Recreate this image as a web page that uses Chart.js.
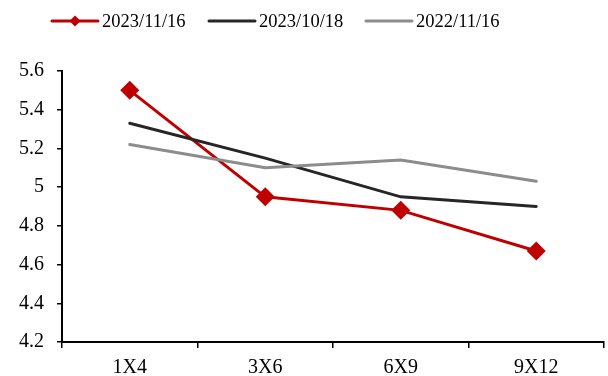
<!DOCTYPE html>
<html>
<head>
<meta charset="utf-8">
<script src="https://cdn.jsdelivr.net/npm/chart.js@4/dist/chart.umd.min.js"></script>
<style>
  html, body { margin: 0; padding: 0; background: #fff; }
  #wrap { width: 608px; height: 376px; }
</style>
</head>
<body>
<div id="wrap"><canvas id="c" width="608" height="376"></canvas></div>
<script>
// Tenors on the x axis
const categories = ['1X4', '3X6', '6X9', '9X12'];
// Curve values on each date
const series20231116 = [5.50, 4.95, 4.88, 4.67];
const series20231018 = [5.33, 5.15, 4.95, 4.90];
const series20221116 = [5.22, 5.10, 5.14, 5.03];
// Y axis range
const yTicks = [4.2, 4.4, 4.6, 4.8, 5.0, 5.2, 5.4, 5.6];

const FONT = '"Liberation Serif", "Times New Roman", serif';
const RED = '#C00000', DARK = '#262626', GREY = '#8C8C8C';

const legendItems = [
  { label: '2023/11/16', color: RED, marker: true, x: 52 },
  { label: '2023/10/18', color: DARK, marker: false, x: 209 },
  { label: '2022/11/16', color: GREY, marker: false, x: 366 }
];

// Legend row drawn across the top of the canvas
const topLegend = {
  id: 'topLegend',
  afterDraw(chart) {
    const ctx = chart.ctx;
    const y = 21;
    ctx.save();
    legendItems.forEach(it => {
      ctx.strokeStyle = it.color;
      ctx.lineWidth = 3;
      ctx.lineCap = 'round';
      ctx.beginPath();
      ctx.moveTo(it.x, y);
      ctx.lineTo(it.x + 46, y);
      ctx.stroke();
      if (it.marker) {
        const cx = it.x + 23, r = 5.5;
        ctx.fillStyle = it.color;
        ctx.beginPath();
        ctx.moveTo(cx - r, y); ctx.lineTo(cx, y - r);
        ctx.lineTo(cx + r, y); ctx.lineTo(cx, y + r);
        ctx.closePath();
        ctx.fill();
      }
      ctx.fillStyle = '#000';
      ctx.font = '18.5px ' + FONT;
      ctx.textBaseline = 'middle';
      ctx.textAlign = 'left';
      ctx.fillText(it.label, it.x + 50, y + 1);
    });
    ctx.restore();
  }
};

new Chart(document.getElementById('c'), {
  type: 'line',
  data: {
    labels: categories,
    datasets: [
      {
        label: '2023/11/16', data: series20231116,
        borderColor: RED, backgroundColor: RED, borderWidth: 3,
        pointStyle: 'rectRot', pointRadius: 9.5, pointBorderWidth: 0,
        pointBackgroundColor: RED, tension: 0, order: 2
      },
      {
        label: '2023/10/18', data: series20231018,
        borderColor: DARK, backgroundColor: DARK, borderWidth: 3,
        pointRadius: 0, tension: 0, borderCapStyle: 'round', order: 1
      },
      {
        label: '2022/11/16', data: series20221116,
        borderColor: GREY, backgroundColor: GREY, borderWidth: 3,
        pointRadius: 0, tension: 0, borderCapStyle: 'round', order: 0
      }
    ]
  },
  options: {
    responsive: false,
    animation: false,
    devicePixelRatio: 1,
    layout: { autoPadding: false, padding: { top: 71, right: 4, left: 0, bottom: 0 } },
    plugins: { legend: { display: false }, tooltip: { enabled: false } },
    scales: {
      x: {
        offset: true,
        grid: { offset: true, drawOnChartArea: false, drawTicks: true, tickLength: 6, color: '#000', lineWidth: 1.5 },
        border: { display: true, color: '#000', width: 2 },
        ticks: { color: '#000', font: { family: FONT, size: 20 }, padding: 8, maxRotation: 0 },
        afterFit(scale) { scale.height = 34; }
      },
      y: {
        min: yTicks[0], max: yTicks[yTicks.length - 1],
        afterBuildTicks(scale) { scale.ticks = yTicks.map(v => ({ value: v })); },
        grid: { drawOnChartArea: false, drawTicks: true, tickLength: 5, color: '#000', lineWidth: 1.5 },
        border: { display: true, color: '#000', width: 2 },
        ticks: {
          color: '#000', font: { family: FONT, size: 20 }, padding: 13,
          callback: v => String(+Number(v).toFixed(1))
        },
        afterFit(scale) { scale.width = 62; }
      }
    }
  },
  plugins: [topLegend]
});
</script>
</body>
</html>
